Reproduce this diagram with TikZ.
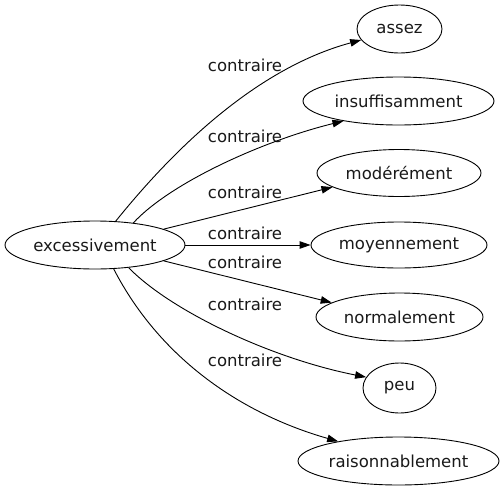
\documentclass[tikz,border=0pt]{standalone}
\usepackage{fontspec}
\setmainfont{DejaVu Sans}
\usetikzlibrary{shapes.geometric,arrows.meta}
\tikzset{
  word/.style={draw, ellipse, inner sep=0pt, line width=0.9pt, text=black!90, font=\fontsize{16.5}{18}\selectfont},
  rel/.style={inner sep=0pt, text=black!90, font=\fontsize{16.5}{18}\selectfont},
  link/.style={line width=0.9pt, -{Triangle[length=11pt,width=7.5pt]}}
}
\begin{document}
\begin{tikzpicture}[x=1pt,y=-1pt]
\useasboundingbox (0,0) rectangle (504,491);
\node[word, minimum width=180pt, minimum height=48pt] (exc) at (95,245) {excessivement};
\node[word, minimum width=85pt, minimum height=48pt] (assez) at (399.5,29) {assez};
\node[word, minimum width=191pt, minimum height=48pt] (insuf) at (398.5,101) {insuffisamment};
\node[word, minimum width=164pt, minimum height=47pt] (moder) at (399,173) {modérément};
\node[word, minimum width=176pt, minimum height=46pt] (moyen) at (399,245) {moyennement};
\node[word, minimum width=167pt, minimum height=48pt] (norm) at (399.5,317) {normalement};
\node[word, minimum width=73pt, minimum height=50pt] (peu) at (399.5,388) {peu};
\node[word, minimum width=201pt, minimum height=48pt] (rais) at (398.5,461) {raisonnablement};

\node[rel] (l1) at (245,65) {contraire};
\node[rel] (l2) at (245,136) {contraire};
\node[rel] (l3) at (245,192) {contraire};
\node[rel] (l4) at (245,233) {contraire};
\node[rel] (l5) at (245,262) {contraire};
\node[rel] (l6) at (245,304) {contraire};
\node[rel] (l7) at (245,360) {contraire};

\draw[link] (exc.49.5) .. controls +(50,-62) and +(-111,30) .. (assez.196);
\draw[link] (exc.30.6) .. controls +(38,-41) and +(-78,19) .. (insuf.200);
\draw[link] (exc.13) -- (moder.192.8);
\draw[link] (exc.east) -- (moyen.west);
\draw[link] (exc.-13.4) -- (norm.168);
\draw[link] (exc.-34) .. controls +(42,43) and +(-96,-19) .. (peu.162);
\draw[link] (exc.-52.5) .. controls +(47,91) and +(-95,-27) .. (rais.162);
\end{tikzpicture}
\end{document}
